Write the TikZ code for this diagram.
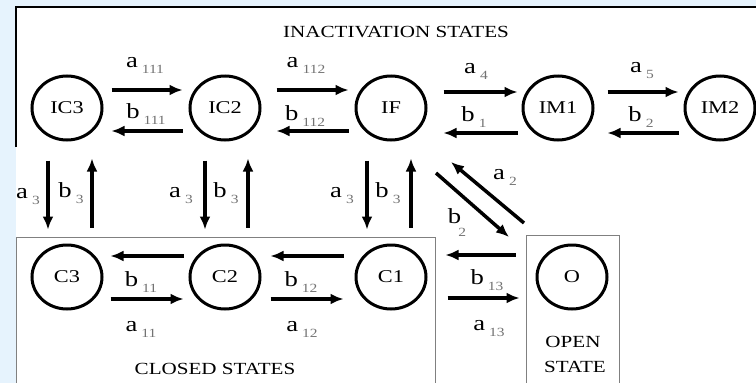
\documentclass[tikz,border=0pt]{standalone}
\usepackage{fontspec}
\setmainfont{Liberation Serif}[FakeStretch=1.24]
\usetikzlibrary{arrows.meta,shapes.geometric}
\definecolor{bgblue}{HTML}{E6F3FD}
\definecolor{boxgray}{HTML}{808080}
\newcommand{\subf}{\fontsize{12.5}{12.5}\selectfont\color{black!55}}
\newcommand{\lab}[2]{#1\hspace{4pt}\raisebox{-6pt}{\subf #2}}
\tikzset{
  state/.style={draw, ellipse, line width=3pt, minimum width=70pt, minimum height=64pt, inner sep=0pt, font=\fontsize{18}{18}\selectfont},
  arr/.style={line width=3.5pt, -{Latex[length=13pt,width=11pt]}},
  bar/.style={line width=3.5pt},
  lab/.style={font=\fontsize{21.5}{21.5}\selectfont, inner sep=0pt},
  ttl/.style={font=\fontsize{17}{17}\selectfont, inner sep=0pt, align=center},
}
\begin{document}
\begin{tikzpicture}[x=1pt,y=-1pt]
\useasboundingbox (0,0) rectangle (756,383);
\fill[bgblue] (0,0) rectangle (756,383);
\fill[white] (16,7) rectangle (756,383);
\draw[line width=1.5pt] (16,147) -- (16,7) -- (756,7);
\draw[boxgray, line width=1pt] (16,383) -- (16,237) -- (435,237) -- (435,383);
\draw[boxgray, line width=1pt] (526,383) -- (526,235) -- (619,235) -- (619,383);

% states
\node[state] (IC3) at (67,108) {IC3};
\node[state] (IC2) at (225,108) {IC2};
\node[state] (IF)  at (391,108) {IF};
\node[state] (IM1) at (558,108) {IM1};
\node[state] (IM2) at (720,108) {IM2};
\node[state] (C3)  at (67,277) {C3};
\node[state] (C2)  at (225,277) {C2};
\node[state] (C1)  at (391,277) {C1};
\node[state] (O)   at (572,277) {O};

% titles
\node[ttl] (tinact) at (396,32) {INACTIVATION STATES};
\node[ttl] (tclosed) at (215,369) {CLOSED STATES};
\node[ttl] (topen) at (573,342) {OPEN};
\node[ttl] (tstate) at (575,367) {STATE};

% top row arrows
\draw[arr] ([shift={(8,-18)}]IC3.east) -- ([shift={(-6,-18)}]IC2.west);
\draw[arr] ([shift={(-6,23)}]IC2.west) -- ([shift={(8,23)}]IC3.east);
\draw[arr] ([shift={(15,-18)}]IC2.east) -- ([shift={(-6,-18)}]IF.west);
\draw[arr] ([shift={(-6,23)}]IF.west) -- ([shift={(15,23)}]IC2.east);
\draw[arr] ([shift={(16,-16)}]IF.east) -- ([shift={(-4,-16)}]IM1.west);
\draw[arr] ([shift={(-4,25)}]IM1.west) -- ([shift={(16,25)}]IF.east);
\draw[arr] ([shift={(13,-16)}]IM1.east) -- ([shift={(-5,-16)}]IM2.west);
\draw[arr] ([shift={(-5,25)}]IM2.west) -- ([shift={(13,25)}]IM1.east);

% bottom row arrows
\draw[arr] ([shift={(-5,-21)}]C2.west) -- ([shift={(7,-21)}]C3.east);
\draw[arr] ([shift={(7,22)}]C3.east) -- ([shift={(-5,22)}]C2.west);
\draw[arr] ([shift={(-11,-21)}]C1.west) -- ([shift={(9,-21)}]C2.east);
\draw[arr] ([shift={(9,22)}]C2.east) -- ([shift={(-11,22)}]C1.west);
\draw[arr] ([shift={(-20,-22)}]O.west) -- ([shift={(18,-22)}]C1.east);
\draw[arr] ([shift={(20,21)}]C1.east) -- ([shift={(-16,21)}]O.west);

% vertical arrows
\draw[arr] ([shift={(-19,19)}]IC3.south) -- ([shift={(-19,-14)}]C3.north);
\draw[arr] ([shift={(25,-16)}]C3.north) -- ([shift={(25,17)}]IC3.south);
\draw[arr] ([shift={(-20,19)}]IC2.south) -- ([shift={(-20,-14)}]C2.north);
\draw[arr] ([shift={(23,-16)}]C2.north) -- ([shift={(23,17)}]IC2.south);
\draw[arr] ([shift={(-24,19)}]IF.south) -- ([shift={(-24,-14)}]C1.north);
\draw[arr] ([shift={(20,-16)}]C1.north) -- ([shift={(20,17)}]IF.south);

% diagonal arrows
\draw[arr] ([shift={(-48,-54)}]O.center) -- ([shift={(60,54)}]IF.center);
\draw[arr] ([shift={(45,65)}]IF.center) -- ([shift={(-63,-40)}]O.center);

% labels
\node[lab] (l1) at (145,65) {\lab{a}{111}};
\node[lab] (l2) at (146,114) {\lab{b}{111}};
\node[lab] (l3) at (306,65) {\lab{a}{112}};
\node[lab] (l4) at (305,116) {\lab{b}{112}};
\node[lab] (l5) at (476,71) {\lab{a}{4}};
\node[lab] (l6) at (474,117) {\lab{b}{1}};
\node[lab] (l7) at (642,71) {\lab{a}{5}};
\node[lab] (l8) at (641,117) {\lab{b}{2}};

\node[lab] (l9) at (28,197) {\lab{a}{3}};
\node[lab] (l10) at (71,193) {\lab{b}{3}};
\node[lab] (l11) at (181,196) {\lab{a}{3}};
\node[lab] (l12) at (226,193) {\lab{b}{3}};
\node[lab] (l13) at (342,196) {\lab{a}{3}};
\node[lab] (l14) at (388,193) {\lab{b}{3}};

\node[lab] (l15) at (505,177) {\lab{a}{2}};
\node[lab] (l16) at (457,223) {b\hspace{-3pt}\raisebox{-13pt}{\subf 2}};

\node[lab] (l17) at (141,282) {\lab{b}{11}};
\node[lab] (l18) at (141,329) {\lab{a}{11}};
\node[lab] (l19) at (301,282) {\lab{b}{12}};
\node[lab] (l20) at (302,329) {\lab{a}{12}};
\node[lab] (l21) at (487,280) {\lab{b}{13}};
\node[lab] (l22) at (489,329) {\lab{a}{13}};
\end{tikzpicture}
\end{document}
